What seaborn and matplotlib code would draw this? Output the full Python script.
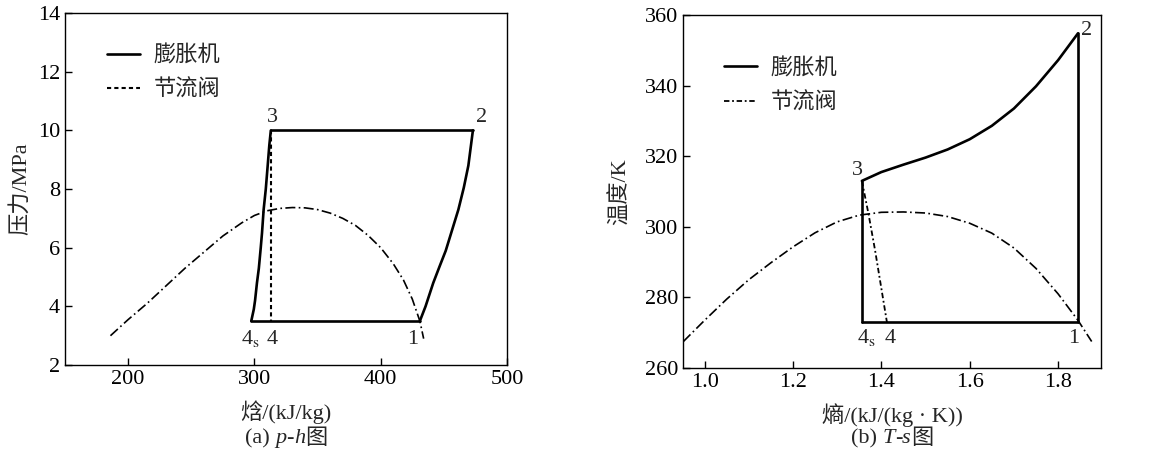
import matplotlib
matplotlib.use('Agg')
import matplotlib.pyplot as plt
from matplotlib.lines import Line2D
import seaborn as sns

# p-h diagram data
ph_h_comp = [431, 435.5, 441.6, 446.5, 451.5, 456.5, 461.5, 465.8, 469.4, 473]
ph_p_comp = [3.5, 4.0, 4.8, 5.35, 5.9, 6.6, 7.3, 8.05, 8.8, 10.0]
ph_h_top = [313, 473]
ph_p_top = [10, 10]
ph_h_exp = [313, 311.8, 310.5, 309, 307.3, 306, 305, 303.5, 302, 300.5, 299.5, 297.5]
ph_p_exp = [10, 9.5, 8.8, 8.0, 7.3, 6.5, 6.0, 5.3, 4.8, 4.2, 3.9, 3.5]
ph_h_bot = [297.5, 431]
ph_p_bot = [3.5, 3.5]
ph_h_thr = [313, 313]
ph_p_thr = [10, 3.5]
ph_h_dome = [186, 200, 215, 230, 245, 260, 275, 290, 300, 310, 320, 330, 340,
             350, 360, 370, 380, 390, 400, 410, 418, 425, 431, 434]
ph_p_dome = [3.0, 3.55, 4.1, 4.7, 5.3, 5.85, 6.4, 6.85, 7.1, 7.26, 7.34, 7.37, 7.36,
             7.3, 7.18, 7.0, 6.76, 6.42, 6.0, 5.45, 4.9, 4.25, 3.5, 2.9]

# T-s diagram data
ts_s_top = [1.356, 1.40, 1.45, 1.50, 1.55, 1.60, 1.65, 1.70, 1.75, 1.80, 1.845]
ts_t_top = [313, 315.5, 317.6, 319.6, 321.9, 324.8, 328.6, 333.5, 339.8, 347.2, 354.8]
ts_s_right = [1.845, 1.845]
ts_t_right = [354.8, 273]
ts_s_bot = [1.845, 1.356]
ts_t_bot = [273, 273]
ts_s_exp = [1.356, 1.356]
ts_t_exp = [273, 313]
ts_s_thr = [1.356, 1.371, 1.386, 1.4126]
ts_t_thr = [313, 303.6, 293.2, 273]
ts_s_dome = [0.952, 1.0, 1.05, 1.1, 1.15, 1.2, 1.25, 1.3, 1.35, 1.4, 1.45, 1.5,
             1.55, 1.6, 1.65, 1.7, 1.75, 1.8, 1.845, 1.876]
ts_t_dome = [267.5, 273.5, 279.5, 285, 289.8, 294.3, 298.3, 301.4, 303.3, 304.1,
             304.2, 303.9, 302.9, 301.0, 298.2, 294.0, 288.2, 281.0, 273.5, 267.5]

legend_labels = ['膨胀机', '节流阀']

sns.set_style('ticks')
plt.rcParams['font.family'] = ['Liberation Serif', 'Noto Sans CJK SC']
plt.rcParams['mathtext.fontset'] = 'stix'
plt.rcParams['xtick.direction'] = 'in'
plt.rcParams['ytick.direction'] = 'in'
plt.rcParams['axes.linewidth'] = 1.0

FS = 16
LW = 1.9
DOME = dict(color='k', linewidth=1.2, linestyle=(0, (6, 2, 1, 2)))
THR_PH = dict(color='k', linewidth=1.5, linestyle=(0, (2, 1.5)))
THR_TS = dict(color='k', linewidth=1.3, linestyle=(0, (3, 1.5, 1, 1.5)))


def line(ax, x, y, **kws):
    sns.lineplot(x=x, y=y, sort=False, estimator=None, ax=ax, **kws)


def style_axes(ax):
    ax.tick_params(axis='both', which='both', length=5, width=1.0,
                   labelsize=FS, colors='k', top=False, right=False)
    for sp in ax.spines.values():
        sp.set_visible(True)
        sp.set_color('k')


def caption(fig, renderer, xc, y, parts):
    texts = [fig.text(0, y, t, fontsize=FS, style=st, ha='left', va='center')
             for t, st in parts]
    widths = [t.get_window_extent(renderer).width / fig.bbox.width for t in texts]
    x = xc - sum(widths) / 2
    for t, w in zip(texts, widths):
        t.set_x(x)
        x += w


fig = plt.figure(figsize=(11.69, 4.68), dpi=100)
ax1 = fig.add_axes([0.0556, 0.220, 0.3781, 0.752])
ax2 = fig.add_axes([0.5842, 0.2137, 0.3576, 0.7543])

# ---- p-h ----
line(ax1, ph_h_dome, ph_p_dome, **DOME)
for h, p in [(ph_h_comp, ph_p_comp), (ph_h_top, ph_p_top),
             (ph_h_exp, ph_p_exp), (ph_h_bot, ph_p_bot)]:
    line(ax1, h, p, color='k', linewidth=LW)
line(ax1, ph_h_thr, ph_p_thr, **THR_PH)

ax1.set_xlim(150, 500)
ax1.set_ylim(2, 14)
ax1.set_xticks([200, 300, 400, 500])
ax1.set_yticks([2, 4, 6, 8, 10, 12, 14])
style_axes(ax1)
ax1.set_xlabel('焓/(kJ/kg)', fontsize=FS)
ax1.set_ylabel('压力/MPa', fontsize=FS)
ax1.xaxis.set_label_coords(0.5, -0.1)
ax1.yaxis.set_label_coords(-0.076, 0.5)

for x, y, s, ha in [(314, 10.29, '3', 'center'), (479.5, 10.29, '2', 'center'),
                    (425.6, 2.72, '1', 'center'), (314, 2.72, '4', 'center'),
                    (289.3, 2.72, r'4$_\mathrm{s}$', 'left')]:
    ax1.text(x, y, s, fontsize=FS, ha=ha, va='baseline')

h1 = [Line2D([], [], color='k', linewidth=LW), Line2D([], [], **THR_PH)]
ax1.legend(h1, legend_labels, loc='upper left', bbox_to_anchor=(0.05, 0.965),
           frameon=False, fontsize=FS, handlelength=1.5, handletextpad=0.6,
           labelspacing=0.6)

# ---- T-s ----
line(ax2, ts_s_dome, ts_t_dome, **DOME)
for s, t in [(ts_s_top, ts_t_top), (ts_s_right, ts_t_right),
             (ts_s_bot, ts_t_bot), (ts_s_exp, ts_t_exp)]:
    line(ax2, s, t, color='k', linewidth=LW)
line(ax2, ts_s_thr, ts_t_thr, **THR_TS)

ax2.set_xlim(0.951, 1.897)
ax2.set_ylim(260, 360)
ax2.set_xticks([1.0, 1.2, 1.4, 1.6, 1.8])
ax2.set_xticklabels(['1.0', '1.2', '1.4', '1.6', '1.8'])
ax2.set_yticks([260, 280, 300, 320, 340, 360])
style_axes(ax2)
ax2.set_xlabel('熵/(kJ/(kg · K))', fontsize=FS)
ax2.set_ylabel('温度/K', fontsize=FS)
ax2.xaxis.set_label_coords(0.5, -0.1)
ax2.yaxis.set_label_coords(-0.125, 0.5)

for x, y, s, ha in [(1.345, 314.6, '3', 'center'), (1.865, 354.2, '2', 'center'),
                    (1.835, 267, '1', 'center'), (1.42, 267, '4', 'center'),
                    (1.346, 267, r'4$_\mathrm{s}$', 'left')]:
    ax2.text(x, y, s, fontsize=FS, ha=ha, va='baseline')

h2 = [Line2D([], [], color='k', linewidth=LW), Line2D([], [], **THR_TS)]
ax2.legend(h2, legend_labels, loc='upper left', bbox_to_anchor=(0.05, 0.935),
           frameon=False, fontsize=FS, handlelength=1.5, handletextpad=0.6,
           labelspacing=0.6)

renderer = fig.canvas.get_renderer()
caption(fig, renderer, 0.2447, 0.062, [('(a) ', 'normal'), ('p', 'italic'),
                                       ('-', 'normal'), ('h', 'italic'), ('图', 'normal')])
caption(fig, renderer, 0.763, 0.062, [('(b) ', 'normal'), ('T', 'italic'),
                                      ('-', 'normal'), ('s', 'italic'), ('图', 'normal')])

fig.savefig('out.png', dpi=100)
